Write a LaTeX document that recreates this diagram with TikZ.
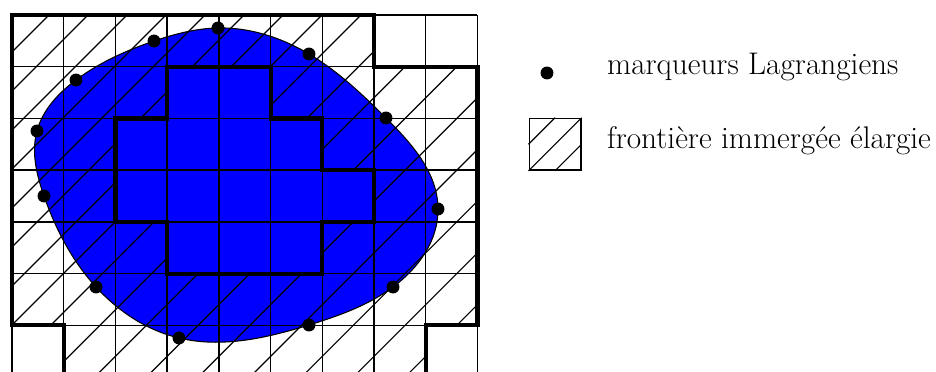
\documentclass[tikz,border=0pt]{standalone}
\usetikzlibrary{calc,positioning,hobby}
\tikzset{
  gridline/.style={line width=0.75pt},
  hatchline/.style={line width=0.65pt},
  bordline/.style={line width=2.3pt},
  lagdot/.style={circle,fill=black,inner sep=0pt,minimum size=0.25cm},
  legtext/.style={anchor=base west,inner sep=0pt,font=\fontsize{17.2}{20}\selectfont},
}
\begin{document}
\begin{tikzpicture}
  \useasboundingbox (-0.232,0.116) rectangle (17.866,7.29);
  % marqueurs sur l'interface
  \coordinate (m1) at (3.983,6.749);
  \coordinate (m2) at (2.746,6.497);
  \coordinate (m3) at (1.237,5.743);
  \coordinate (m4) at (0.483,4.757);
  \coordinate (m5) at (0.619,3.500);
  \coordinate (m6) at (1.624,1.741);
  \coordinate (m7) at (3.229,0.755);
  \coordinate (m8) at (5.742,1.006);
  \coordinate (m9) at (7.367,1.741);
  \coordinate (m10) at (8.237,3.249);
  \coordinate (m11) at (7.231,5.009);
  \coordinate (m12) at (5.742,6.246);
  \filldraw[fill=blue,line width=0.6pt,use Hobby shortcut,closed=true]
    (m1) .. (m2) .. (m3) .. (m4) .. (m5) .. (m6) .. (m7) .. (m8) .. (m9) .. (m10) .. (m11) .. (m12);
  % maillage
  \draw[gridline] (0,0) grid (9,7);
  % hachures
  \begin{scope}[even odd rule]
    \clip (1,0) -- (1,1) -- (0,1) -- (0,7) -- (7,7) -- (7,6) -- (9,6) -- (9,1) -- (8,1) -- (8,0) -- cycle
      (3,6) -- (5,6) -- (5,5) -- (6,5) -- (6,4) -- (7,4) -- (7,3) -- (6,3) -- (6,2) -- (3,2) -- (3,3) -- (2,3) -- (2,5) -- (3,5) -- cycle;
    \foreach \c in {-6.285,-5.531,-4.777,-4.023,-3.269,-2.515,-1.761,-1.007,-0.253,0.7,1.6,2.6,3.6,4.6,5.6,6.6,7.6}
      \draw[hatchline] (\c,0) -- ++(8,8);
  \end{scope}
  % frontieres
  \draw[bordline] (1,0) -- (1,1) -- (0,1) -- (0,7) -- (7,7) -- (7,6) -- (9,6) -- (9,1) -- (8,1) -- (8,0);
  \draw[bordline] (3,6) -- (5,6) -- (5,5) -- (6,5) -- (6,4) -- (7,4) -- (7,3) -- (6,3) -- (6,2) -- (3,2) -- (3,3) -- (2,3) -- (2,5) -- (3,5) -- cycle;
  \foreach \i in {1,...,12}
    \node[lagdot] (d\i) at (m\i) {};
  % legende
  \node[lagdot] (legdot) at (10.344,5.879) {};
  \node[legtext] (labdot) at (11.5,5.84) {marqueurs Lagrangiens};
  \node[draw,gridline,minimum size=1cm,inner sep=0pt] (legbox) at (10.5,4.5) {};
  \draw[hatchline] (legbox.west) -- (legbox.north);
  \draw[hatchline] (legbox.south west) -- (legbox.north east);
  \draw[hatchline] (legbox.south) -- (legbox.east);
  \node[legtext] (labbox) at (11.5,4.42) {frontière immergée élargie};
\end{tikzpicture}
\end{document}
